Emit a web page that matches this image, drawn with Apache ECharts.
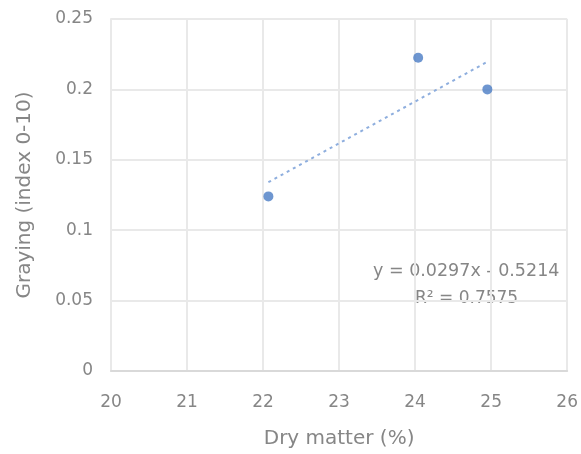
<!DOCTYPE html>
<html>
<head>
<meta charset="utf-8">
<script src="https://cdn.jsdelivr.net/npm/echarts@6/dist/echarts.min.js"></script>
<style>
  html, body { margin: 0; padding: 0; background: #fff; }
  #chart { width: 581px; height: 454px; }
</style>
</head>
<body>
<div id="chart"></div>
<script>
// Dry matter (%) against greying score
const dryMatter = [22.07, 24.04, 24.95];
const graying = [0.124, 0.2225, 0.2];

// Linear trend: y = slope * x + intercept
const slope = 0.0297;
const intercept = -0.5214;
const rSquared = 0.7575;

const xTicks = [20, 21, 22, 23, 24, 25, 26];
const yTicks = [0, 0.05, 0.1, 0.15, 0.2, 0.25];

const xMin = Math.min(...dryMatter);
const xMax = Math.max(...dryMatter);
const trend = [xMin, xMax].map(x => [x, slope * x + intercept]);

const textColor = '#868686';
const font = 'DejaVu Sans, Liberation Sans, sans-serif';
const labelSize = 17;
const titleSize = 20;

const chart = echarts.init(document.getElementById('chart'));
chart.setOption({
  animation: false,
  backgroundColor: '#fff',
  grid: { left: 111, right: 11, top: 19, bottom: 83 },
  xAxis: {
    type: 'value',
    min: xTicks[0], max: xTicks[xTicks.length - 1], interval: 1,
    name: 'Dry matter (%)', nameLocation: 'middle', nameGap: 58,
    nameTextStyle: { color: textColor, fontSize: titleSize, fontFamily: font },
    axisLine: { show: true, lineStyle: { color: '#d9d9d9', width: 2 } },
    axisTick: { show: false },
    axisLabel: { color: textColor, fontSize: labelSize, fontFamily: font, margin: 23 },
    splitLine: { show: true, lineStyle: { color: '#e9e9e9', width: 2 } }
  },
  yAxis: {
    type: 'value',
    min: yTicks[0], max: yTicks[yTicks.length - 1], interval: 0.05,
    name: 'Graying (index 0-10)', nameLocation: 'middle', nameGap: 76,
    nameTextStyle: { color: textColor, fontSize: titleSize, fontFamily: font },
    axisLine: { show: true, lineStyle: { color: '#e9e9e9', width: 2 } },
    axisTick: { show: false },
    axisLabel: { color: textColor, fontSize: labelSize, fontFamily: font, margin: 18 },
    splitLine: { show: true, lineStyle: { color: '#e9e9e9', width: 2 } }
  },
  series: [
    {
      type: 'line',
      data: trend,
      showSymbol: false,
      lineStyle: { color: '#8eaede', width: 2, type: [3, 4] },
      z: 2
    },
    {
      type: 'scatter',
      data: dryMatter.map((x, i) => [x, graying[i]]),
      symbol: 'circle',
      symbolSize: 10,
      itemStyle: { color: '#4a7cc4' },
      z: 3
    }
  ],
  graphic: [
    {
      type: 'text', left: 373, top: 262,
      style: { text: 'y = ' + slope + 'x - ' + Math.abs(intercept), fill: textColor, font: '17.5px ' + font }
    },
    {
      type: 'text', left: 415, top: 290,
      style: { text: 'R² = ' + rSquared, fill: textColor, font: labelSize + 'px ' + font }
    }
  ]
});
</script>
</body>
</html>
